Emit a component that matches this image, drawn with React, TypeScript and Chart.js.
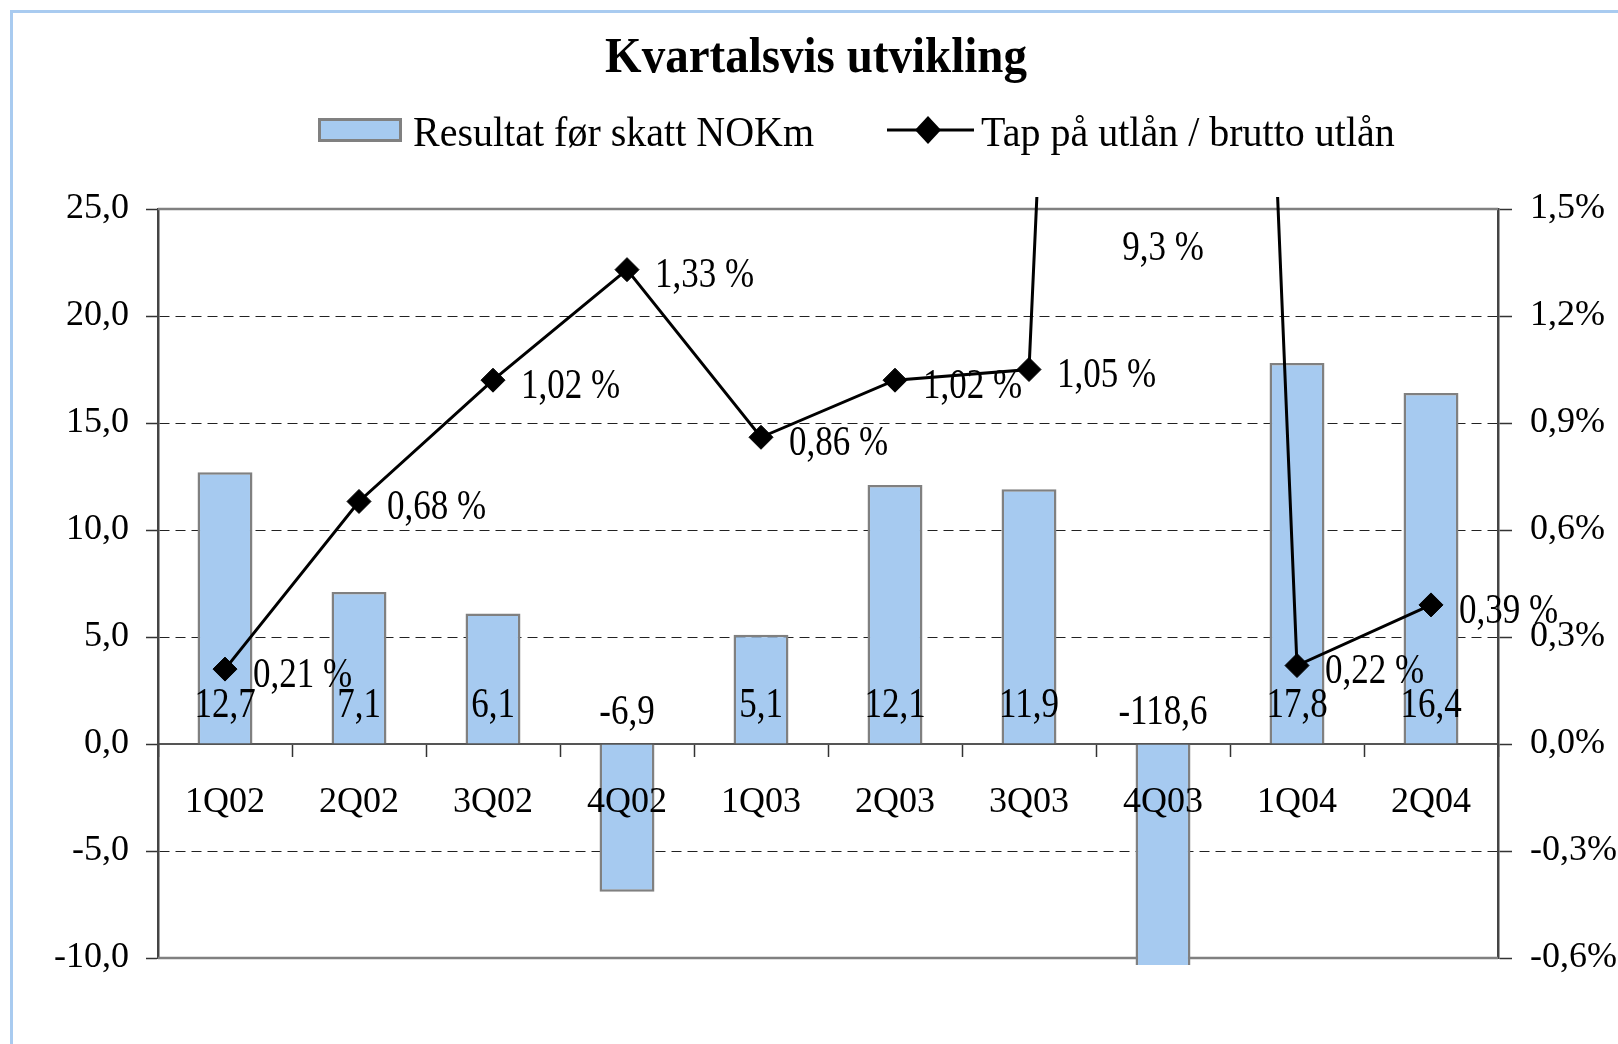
import React, { useEffect, useRef } from 'react';
import { Chart, registerables } from 'chart.js';

Chart.register(...registerables);

// ---- data ----
const categories = ['1Q02', '2Q02', '3Q02', '4Q02', '1Q03', '2Q03', '3Q03', '4Q03', '1Q04', '2Q04'];
const resultBeforeTax = [12.7, 7.1, 6.1, -6.9, 5.1, 12.1, 11.9, -118.6, 17.8, 16.4];
const lossRatioPct = [0.21, 0.68, 1.02, 1.33, 0.86, 1.02, 1.05, 9.3, 0.22, 0.39];
const titleText = 'Kvartalsvis utvikling';
const barSeriesName = 'Resultat før skatt NOKm';
const lineSeriesName = 'Tap på utlån / brutto utlån';
const leftAxisRange = [-10, 25];
const leftAxisStep = 5;
const rightAxisRange = [-0.6, 1.5];
const rightAxisStep = 0.3;

const FONT = '"Liberation Serif", "Times New Roman", serif';
const BAR_FILL = '#A6CAF0';
const BAR_EDGE = '#808080';

const comma = (s: string) => s.replace('.', ',');

function stretchedText(ctx: CanvasRenderingContext2D, text: string, x: number, y: number, sy: number) {
  ctx.save();
  ctx.translate(x, y);
  ctx.scale(1, sy);
  ctx.fillText(text, 0, 0);
  ctx.restore();
}

const decorPlugin = {
  id: 'decor',
  beforeDraw(chart: any) {
    const ctx: CanvasRenderingContext2D = chart.ctx;
    ctx.save();
    // outer light-blue frame (top & left)
    ctx.strokeStyle = '#A9CBF0';
    ctx.lineWidth = 3;
    ctx.beginPath();
    ctx.moveTo(11.5, chart.height);
    ctx.lineTo(11.5, 11.5);
    ctx.lineTo(chart.width, 11.5);
    ctx.stroke();

    // title
    ctx.fillStyle = '#000';
    ctx.font = `bold 47px ${FONT}`;
    ctx.textAlign = 'center';
    ctx.textBaseline = 'alphabetic';
    stretchedText(ctx, titleText, 816, 72, 1.08);

    // legend: bar entry
    ctx.fillStyle = BAR_FILL;
    ctx.fillRect(319.5, 119.5, 81, 21);
    ctx.strokeStyle = BAR_EDGE;
    ctx.lineWidth = 3;
    ctx.strokeRect(319.5, 119.5, 81, 21);
    ctx.fillStyle = '#000';
    ctx.font = `40px ${FONT}`;
    ctx.textAlign = 'left';
    stretchedText(ctx, barSeriesName, 413, 146, 1.08);

    // legend: line entry
    ctx.strokeStyle = '#000';
    ctx.lineWidth = 3;
    ctx.beginPath();
    ctx.moveTo(887, 130);
    ctx.lineTo(974, 130);
    ctx.stroke();
    ctx.beginPath();
    ctx.moveTo(928 - 13, 130);
    ctx.lineTo(928, 130 - 14);
    ctx.lineTo(928 + 13, 130);
    ctx.lineTo(928, 130 + 14);
    ctx.closePath();
    ctx.fill();
    stretchedText(ctx, lineSeriesName, 981, 146, 1.08);
    ctx.restore();
  },
  beforeDatasetsDraw(chart: any) {
    const ctx: CanvasRenderingContext2D = chart.ctx;
    const a = chart.chartArea;
    ctx.save();
    ctx.strokeStyle = BAR_EDGE;
    ctx.lineWidth = 2.5;
    ctx.beginPath();
    ctx.moveTo(a.left, a.top);
    ctx.lineTo(a.right, a.top);
    ctx.moveTo(a.left, a.bottom);
    ctx.lineTo(a.right, a.bottom);
    ctx.stroke();
    ctx.restore();
  },
  afterDatasetsDraw(chart: any) {
    const ctx: CanvasRenderingContext2D = chart.ctx;
    const a = chart.chartArea;
    const zero = chart.scales.y.getPixelForValue(0);
    ctx.save();
    ctx.fillStyle = '#000';
    ctx.font = `35px ${FONT}`;
    ctx.textBaseline = 'middle';
    // bar labels
    const barMeta = chart.getDatasetMeta(1);
    ctx.textAlign = 'center';
    barMeta.data.forEach((el: any, i: number) => {
      const v = resultBeforeTax[i];
      const y = v >= 0 ? zero - 38 : zero - 31;
      stretchedText(ctx, comma(v.toFixed(1)), el.x, y, 1.18);
    });
    // line labels
    const lineMeta = chart.getDatasetMeta(0);
    lineMeta.data.forEach((el: any, i: number) => {
      const v = lossRatioPct[i];
      const txt = comma(v.toFixed(2).replace(/0$/, '')) + ' %';
      if (el.y < a.top) {
        ctx.textAlign = 'center';
        stretchedText(ctx, txt, el.x, a.top + 40, 1.18);
      } else {
        ctx.textAlign = 'left';
        stretchedText(ctx, txt, el.x + 28, el.y + 7, 1.18);
      }
    });
    ctx.restore();
  },
};

export default function App() {
  const canvasRef = useRef<HTMLCanvasElement | null>(null);

  useEffect(() => {
    if (!canvasRef.current) return;
    const tickFont = { family: FONT, size: 36 };
    const chart = new Chart(canvasRef.current, {
      type: 'bar',
      data: {
        labels: categories,
        datasets: [
          {
            type: 'line',
            label: lineSeriesName,
            data: lossRatioPct,
            yAxisID: 'y1',
            order: 0,
            borderColor: '#000',
            backgroundColor: '#000',
            borderWidth: 3,
            pointStyle: 'rectRot',
            pointRadius: 12,
            pointBorderWidth: 1,
            pointBackgroundColor: '#000',
            pointBorderColor: '#000',
            tension: 0,
            clip: { left: 30, top: 12, right: 30, bottom: 30 },
          } as any,
          {
            type: 'bar',
            label: barSeriesName,
            data: resultBeforeTax,
            yAxisID: 'y',
            order: 1,
            backgroundColor: BAR_FILL,
            borderColor: BAR_EDGE,
            borderWidth: 2.5,
            barPercentage: 0.41,
            categoryPercentage: 1,
            clip: { left: 0, top: 0, right: 0, bottom: 7 },
          } as any,
        ],
      },
      options: {
        responsive: false,
        animation: false,
        devicePixelRatio: 1,
        layout: { padding: { top: 209, bottom: 86, left: 0, right: 0 } },
        plugins: {
          legend: { display: false },
          title: { display: false },
          tooltip: { enabled: false },
        },
        scales: {
          x: {
            position: { y: 0 } as any,
            offset: true,
            grid: {
              offset: true,
              drawOnChartArea: false,
              drawTicks: true,
              tickLength: 12,
              tickColor: '#333',
              tickWidth: 1.5,
            },
            border: { display: true, color: '#555', width: 2 },
            ticks: { z: 1, color: '#000', font: tickFont, padding: 25, maxRotation: 0, autoSkip: false },
          },
          y: {
            position: 'left',
            min: leftAxisRange[0],
            max: leftAxisRange[1],
            afterFit: (s: any) => { s.width = 158; },
            grid: {
              color: (c: any) => {
                const v = c.tick ? c.tick.value : 0;
                return v === 0 || v === leftAxisRange[0] || v === leftAxisRange[1] ? 'rgba(0,0,0,0)' : '#222';
              },
              lineWidth: 1,
              drawTicks: true,
              tickLength: 12,
              tickColor: '#333',
              tickWidth: 1.5,
            },
            border: { display: true, color: '#444', width: 2.5, dash: [10, 6] },
            ticks: {
              stepSize: leftAxisStep,
              color: '#000',
              font: tickFont,
              padding: 17,
              callback: (v: any) => comma(Number(v).toFixed(1)),
            },
          },
          y1: {
            position: 'right',
            min: rightAxisRange[0],
            max: rightAxisRange[1],
            afterFit: (s: any) => { s.width = 120; },
            grid: {
              drawOnChartArea: false,
              drawTicks: true,
              tickLength: 14,
              tickColor: '#333',
              tickWidth: 1.5,
            },
            border: { display: true, color: '#444', width: 2.5 },
            ticks: {
              stepSize: rightAxisStep,
              color: '#000',
              font: tickFont,
              padding: 18,
              callback: (v: any) => comma(Number(v).toFixed(1)) + '%',
            },
          },
        },
      } as any,
      plugins: [decorPlugin],
    });
    return () => chart.destroy();
  }, []);

  return (
    <div style={{ position: 'absolute', left: 0, top: 0, width: 1618, height: 1044, background: '#fff' }}>
      <canvas ref={canvasRef} width={1618} height={1044} style={{ width: 1618, height: 1044, display: 'block' }} />
    </div>
  );
}
